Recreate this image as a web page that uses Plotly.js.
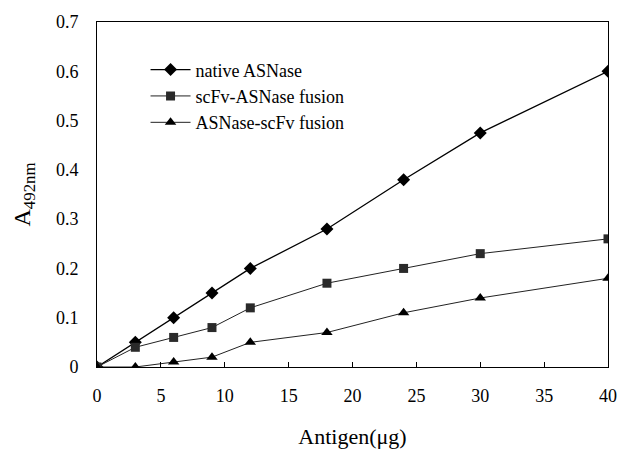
<!DOCTYPE html>
<html><head><meta charset="utf-8">
<script src="https://cdn.plot.ly/plotly-3.0.1.min.js"></script>
<style>body{margin:0;background:#fff}</style>
</head><body><div id="chart" style="width:617px;height:460px"></div>
<script>
const antigen = [0, 3, 6, 9, 12, 18, 24, 30, 40];
const nativeASNase = [0, 0.05, 0.10, 0.15, 0.20, 0.28, 0.38, 0.475, 0.60];
const scFvASNase = [0, 0.04, 0.06, 0.08, 0.12, 0.17, 0.20, 0.23, 0.26];
const ASNaseScFv = [0, 0, 0.01, 0.02, 0.05, 0.07, 0.11, 0.14, 0.18];
const seriesNames = ['native ASNase', 'scFv-ASNase fusion', 'ASNase-scFv fusion'];
const xTicks = [0, 5, 10, 15, 20, 25, 30, 35, 40];
const yTicks = [0, 0.1, 0.2, 0.3, 0.4, 0.5, 0.6, 0.7];
const yTickText = ['0', '0.1', '0.2', '0.3', '0.4', '0.5', '0.6', '0.7'];

const font = 'Liberation Serif';
const traces = [
  {x: antigen, y: nativeASNase, name: seriesNames[0], mode: 'lines+markers',
   line: {color: '#000', width: 1.3}, marker: {symbol: 'diamond', size: 10, color: '#000'}},
  {x: antigen, y: scFvASNase, name: seriesNames[1], mode: 'lines+markers',
   line: {color: '#222', width: 1}, marker: {symbol: 'square', size: 9, color: '#2a2a2a'}},
  {x: antigen, y: ASNaseScFv, name: seriesNames[2], mode: 'lines+markers',
   line: {color: '#222', width: 1}, marker: {symbol: 'triangle-up', size: 10, color: '#000'}}
];
const layout = {
  width: 617, height: 460,
  margin: {l: 97, r: 9, t: 22, b: 93},
  paper_bgcolor: '#fff', plot_bgcolor: '#fff',
  font: {family: font, color: '#000', size: 18},
  showlegend: true,
  legend: {x: 0.095, y: 0.915, xanchor: 'left', yanchor: 'top', bgcolor: 'rgba(0,0,0,0)',
           font: {family: font, size: 18}, tracegroupgap: 0, itemwidth: 40},
  xaxis: {range: [0, 40], tickvals: xTicks, showgrid: false, zeroline: false,
          showline: true, linecolor: '#000', linewidth: 1, mirror: true,
          ticks: 'inside', ticklen: 5, tickcolor: '#000', ticklabelstandoff: 12,
          tickfont: {family: font, size: 18},
          title: {text: 'Antigen(μg)', font: {family: font, size: 22}, standoff: 24}},
  yaxis: {range: [0, 0.7], tickvals: yTicks, ticktext: yTickText, showgrid: false, zeroline: false,
          showline: true, linecolor: '#000', linewidth: 1, mirror: true,
          ticks: '', ticklabelstandoff: 14,
          tickfont: {family: font, size: 18},
          title: {text: 'A<sub>492nm</sub>', font: {family: font, size: 24}, standoff: 18}}
};
Plotly.newPlot('chart', traces, layout, {displayModeBar: false, staticPlot: true});
</script></body></html>
